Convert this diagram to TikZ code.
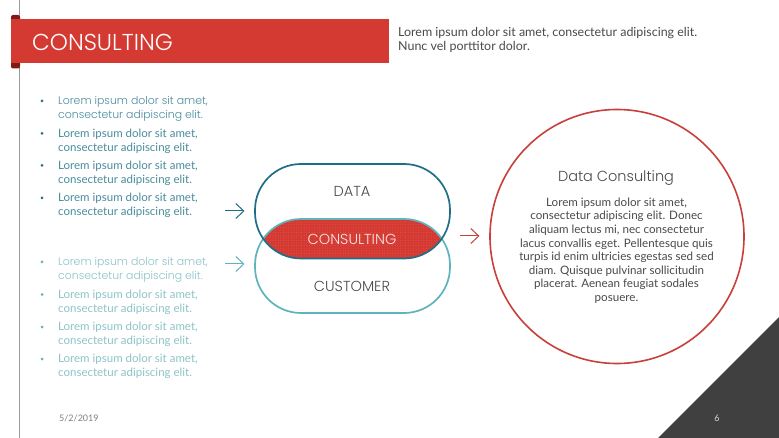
\documentclass[tikz,border=0pt]{standalone}
\usepackage{fontspec}
\setmainfont{Lato}
\newfontfamily\headfont{Poppins Light}
\usetikzlibrary{arrows.meta,patterns.meta}
\definecolor{deepteal}{HTML}{1F6E86}
\definecolor{liteteal}{HTML}{5FB3BC}
\definecolor{txtdeep}{HTML}{4A8C9E}
\definecolor{txtlite}{HTML}{8CC4C9}
\definecolor{redbar}{HTML}{D53A32}
\definecolor{ringred}{HTML}{C9403A}
\definecolor{darkred}{HTML}{7E1B14}
\definecolor{inktxt}{HTML}{4A4A4A}
\definecolor{slate}{HTML}{404040}
\tikzset{
  x=1pt,y=-1pt,
  capsule/.style={draw,line width=1.7pt,rounded corners=46pt},
  flow/.style={line width=1pt,-{Straight Barb[length=8pt,width=15pt,line width=1pt]}},
  bulletdeep/.style={anchor=north west,inner sep=0pt,align=left,text=txtdeep,font=\fontsize{11.5}{14}\selectfont},
  bulletlite/.style={bulletdeep,text=txtlite},
  firstdeep/.style={bulletdeep,font=\headfont\fontsize{10.9}{14}\selectfont},
  firstlite/.style={firstdeep,text=txtlite},
  dotdeep/.style={circle,fill=deepteal,inner sep=0pt,minimum size=3pt},
  dotlite/.style={circle,fill=liteteal,inner sep=0pt,minimum size=3pt},
  lbl/.style={inner sep=0pt,text=inktxt,font=\headfont\fontsize{14.5}{17}\selectfont},
}
\begin{document}
\begin{tikzpicture}
\useasboundingbox (0,0) rectangle (779,438);
\fill[white] (0,0) rectangle (779,438);
% margin line and title
\draw[line width=1pt,color=black!40] (19.5,0) -- (19.5,438);
\fill[darkred,rounded corners=2pt] (11,15) rectangle (20,68.5);
\fill[redbar] (11,19.5) rectangle (389,63.5);
\node[anchor=west,inner sep=0pt,text=white,font=\headfont\fontsize{23}{26}\selectfont] (title) at (32,42) {CONSULTING};
\node[anchor=north west,inner sep=0pt,align=left,text=inktxt,font=\fontsize{12.45}{14.5}\selectfont] (intro) at (398,27)
  {Lorem ipsum dolor sit amet, consectetur adipiscing elit.\\Nunc vel porttitor dolor.};
% bullet lists
\node[firstdeep] (itema) at (58,96) {Lorem ipsum dolor sit amet,\\consectetur adipiscing elit.};
\node[dotdeep] (dota) at (42,101) {};
\foreach \n/\y in {b/128.5,c/160.5,d/193}{
  \node[dotdeep] (dot\n) at (42,\y+5) {};
  \node[bulletdeep] (item\n) at (58,\y) {Lorem ipsum dolor sit amet,\\consectetur adipiscing elit.};
}
\node[firstlite] (iteme) at (58,257) {Lorem ipsum dolor sit amet,\\consectetur adipiscing elit.};
\node[dotlite] (dote) at (42,262) {};
\foreach \n/\y in {f/289.5,g/322,h/354}{
  \node[dotlite] (dot\n) at (42,\y+5) {};
  \node[bulletlite] (item\n) at (58,\y) {Lorem ipsum dolor sit amet,\\consectetur adipiscing elit.};
}
% lens
\begin{scope}
  \clip[rounded corners=46pt] (255,164) rectangle (450,258.5);
  \clip[rounded corners=46pt] (255,219) rectangle (450,313);
  \fill[redbar] (255,164) rectangle (450,313);
  \fill[pattern={Dots[distance=2.6pt,radius=.45pt]},pattern color=white!18!redbar] (255,164) rectangle (450,313);
\end{scope}
% capsules
\draw[capsule,color=liteteal] (255,219) rectangle (450,313);
\draw[capsule,color=deepteal] (255,164) rectangle (450,258.5);
\node[lbl] (data) at (352,191.5) {DATA};
\node[lbl,text=white!88!redbar] (cons) at (352,239.5) {CONSULTING};
\node[lbl] (cust) at (352,286.5) {CUSTOMER};
% arrows
\coordinate (a1) at (225,211); \coordinate (a1e) at (244.5,211);
\coordinate (a2) at (225,264); \coordinate (a2e) at (244.5,264);
\coordinate (a3) at (460,236); \coordinate (a3e) at (479.5,236);
\draw[flow,color=deepteal] (a1) -- (a1e);
\draw[flow,color=liteteal] (a2) -- (a2e);
\draw[flow,color=ringred] (a3) -- (a3e);
% circle
\node[circle,draw=ringred,line width=1.6pt,minimum size=254pt,inner sep=0pt] (ring) at (617,236.5) {};
\node[inner sep=0pt,text=inktxt,font=\headfont\fontsize{14.5}{17}\selectfont] (rhead) at (616,178) {Data Consulting};
\node[inner sep=0pt,anchor=north,align=center,text=inktxt,font=\fontsize{11.6}{13.6}\selectfont] (rbody) at (616.5,197.5)
 {Lorem ipsum dolor sit amet,\\consectetur adipiscing elit. Donec\\aliquam lectus mi, nec consectetur\\lacus convallis eget. Pellentesque quis\\turpis id enim ultricies egestas sed sed\\diam. Quisque pulvinar sollicitudin\\placerat. Aenean feugiat sodales\\posuere.};
% corner
\fill[slate] (779,317) -- (779,438) -- (658,438) -- cycle;
\node[inner sep=0pt,text=white!85!black,font=\fontsize{9}{10}\selectfont] (page) at (717,418) {6};
\node[anchor=west,inner sep=0pt,text=black!50,font=\fontsize{9}{10}\selectfont] (date) at (59,418) {5/2/2019};
\end{tikzpicture}
\end{document}
